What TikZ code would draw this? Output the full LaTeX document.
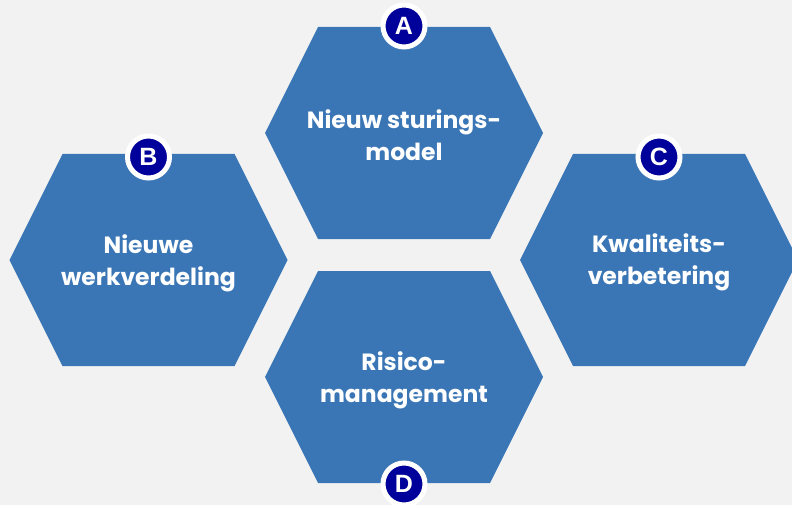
\documentclass[tikz,border=0pt]{standalone}
\usepackage{fontspec}
\setmainfont{Poppins}
\newfontfamily\badgefont{Liberation Sans}
\definecolor{bgGray}{HTML}{F2F2F2}
\definecolor{cellBlue}{HTML}{3A76B5}
\definecolor{badgeNavy}{HTML}{00009A}

\begin{document}
\begin{tikzpicture}[
    x=1pt, y=-1pt,
    cell/.style={fill=cellBlue},
    label/.style={text=white, align=center, font=\fontsize{23.5}{32}\selectfont\bfseries},
    badge/.style={circle, fill=badgeNavy, draw=white, line width=5pt,
        minimum size=42pt, inner sep=0pt, text=white,
        font=\badgefont\fontsize{25}{25}\selectfont\bfseries}
]
    \fill[bgGray] (0,0) rectangle (792,505);
    \useasboundingbox (0,0) rectangle (792,505);

    % A: top
    \fill[cell, shift={(404,133)}] (-139,0) -- (-86,-106) -- (86,-106)
        -- (139,0) -- (86,106) -- (-86,106) -- cycle;
    \node[label] (a) at (404,135) {Nieuw sturings-\\model};
    \node[badge] (badgeA) at (404,26) {A};

    % B: left
    \fill[cell, shift={(148.5,260)}] (-139,0) -- (-86,-106) -- (86,-106)
        -- (139,0) -- (86,106) -- (-86,106) -- cycle;
    \node[label] (b) at (148.5,263) {Nieuwe\\werkverdeling};
    \node[badge] (badgeB) at (148.5,157) {B};

    % C: right
    \fill[cell, shift={(659,260)}] (-139,0) -- (-86,-106) -- (86,-106)
        -- (139,0) -- (86,106) -- (-86,106) -- cycle;
    \node[label] (c) at (659,262) {Kwaliteits-\\verbetering};
    \node[badge] (badgeC) at (659,157) {C};

    % D: bottom
    \fill[cell, shift={(404,377)}] (-139,0) -- (-86,-106) -- (86,-106)
        -- (139,0) -- (86,106) -- (-86,106) -- cycle;
    \node[label] (d) at (404,380) {Risico-\\management};
    \node[badge] (badgeD) at (404,484) {D};
\end{tikzpicture}
\end{document}
